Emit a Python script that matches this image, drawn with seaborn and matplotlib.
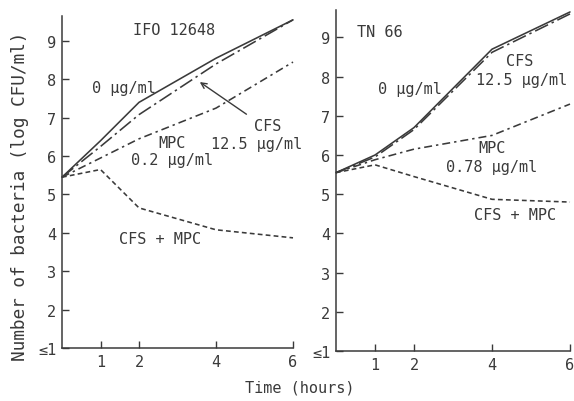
import numpy as np
import pandas as pd
import matplotlib
matplotlib.use("Agg")
import matplotlib.pyplot as plt
import seaborn as sns

# time points (hours)
hours = [0, 1, 2, 4, 6]

# IFO 12648 (log CFU/ml)
ifo_control = [5.45, 6.4, 7.4, 8.55, 9.55]
ifo_cfs = [5.45, 6.25, 7.08, 8.4, 9.55]
ifo_mpc = [5.45, 5.95, 6.45, 7.25, 8.45]
ifo_combo = [5.45, 5.65, 4.65, 4.08, 3.87]

# TN 66 (log CFU/ml)
tn_control = [5.55, 6.0, 6.7, 8.7, 9.65]
tn_cfs = [5.55, 5.95, 6.65, 8.62, 9.6]
tn_mpc = [5.55, 5.88, 6.15, 6.5, 7.3]
tn_combo = [5.55, 5.75, 5.45, 4.87, 4.8]

series_names = ["control", "CFS", "MPC", "CFS + MPC"]
y_ticks = [1, 2, 3, 4, 5, 6, 7, 8, 9]
y_tick_labels = ["≤1", "2", "3", "4", "5", "6", "7", "8", "9"]
x_ticks = [1, 2, 4, 6]


def to_long(vals_list):
    rows = []
    for name, vals in zip(series_names, vals_list):
        for t, v in zip(hours, vals):
            rows.append({"time": t, "count": v, "series": name})
    return pd.DataFrame(rows)


df_ifo = to_long([ifo_control, ifo_cfs, ifo_mpc, ifo_combo])
df_tn = to_long([tn_control, tn_cfs, tn_mpc, tn_combo])

sns.set_style("white")
plt.rcParams["font.family"] = ["DejaVu Sans Mono"]
ink = "#3a3a3a"
plt.rcParams["text.color"] = ink

fig = plt.figure(figsize=(5.74, 4.02), dpi=100)
ax1 = fig.add_axes([62 / 574, 1 - 349 / 402, (293 - 62) / 574, (349 - 17) / 402])
ax2 = fig.add_axes([336 / 574, 1 - 352 / 402, (570 - 336) / 574, (352 - 11) / 402])

dash_map = {"control": "", "CFS": (9, 2.5, 1.5, 2.5), "MPC": (5, 2.5, 1.5, 2.5),
            "CFS + MPC": (3, 2)}
pal = {n: ink for n in series_names}

for ax, df, top in [(ax1, df_ifo, 9.65), (ax2, df_tn, 9.7)]:
    sns.lineplot(data=df, x="time", y="count", hue="series", style="series",
                 palette=pal, dashes=dash_map, linewidth=1.15, legend=False,
                 ax=ax, clip_on=False)
    ax.set_xlim(0, 6)
    ax.set_ylim(1, top)
    ax.set_xticks(x_ticks)
    ax.set_xticklabels([str(t) for t in x_ticks])
    ax.set_yticks(y_ticks)
    ax.set_yticklabels(y_tick_labels)
    ax.tick_params(direction="in", length=5, width=1, colors=ink,
                   labelsize=11, pad=4, bottom=True, left=True)
    ax.set_xlabel("")
    ax.set_ylabel("")
    for s in ["top", "right"]:
        ax.spines[s].set_visible(False)
    for s in ["left", "bottom"]:
        ax.spines[s].set_color(ink)
        ax.spines[s].set_linewidth(1.1)
    ax.patch.set_alpha(0)

fs = 11
# left panel annotations
ax1.text(2.9, 9.3, "IFO 12648", ha="center", va="center", fontsize=fs)
ax1.text(1.6, 7.8, "0 µg/ml", ha="center", va="center", fontsize=fs)
ax1.text(2.85, 6.35, "MPC", ha="center", va="center", fontsize=fs)
ax1.text(2.85, 5.9, "0.2 µg/ml", ha="center", va="center", fontsize=fs)
ax1.text(5.35, 6.8, "CFS", ha="center", va="center", fontsize=fs, clip_on=False)
ax1.text(5.05, 6.33, "12.5 µg/ml", ha="center", va="center", fontsize=fs,
         clip_on=False)
ax1.annotate("", xy=(3.52, 7.97), xytext=(4.85, 7.05),
             arrowprops=dict(arrowstyle="->", color=ink, lw=1.0))
ax1.text(2.55, 3.85, "CFS + MPC", ha="center", va="center", fontsize=fs)

# right panel annotations
ax2.text(1.13, 9.15, "TN 66", ha="center", va="center", fontsize=fs)
ax2.text(1.9, 7.7, "0 µg/ml", ha="center", va="center", fontsize=fs)
ax2.text(4.7, 8.4, "CFS", ha="center", va="center", fontsize=fs)
ax2.text(4.75, 7.93, "12.5 µg/ml", ha="center", va="center", fontsize=fs,
         clip_on=False)
ax2.text(4.0, 6.2, "MPC", ha="center", va="center", fontsize=fs)
ax2.text(4.0, 5.7, "0.78 µg/ml", ha="center", va="center", fontsize=fs)
ax2.text(4.6, 4.48, "CFS + MPC", ha="center", va="center", fontsize=fs)

fig.text(20 / 574, 1 - 196 / 402, "Number of bacteria (log CFU/ml)",
         rotation=90, ha="center", va="center", fontsize=12.8)
fig.text(300 / 574, 1 - 388 / 402, "Time (hours)", ha="center", va="center",
         fontsize=fs)

fig.savefig("out.png", dpi=100)
